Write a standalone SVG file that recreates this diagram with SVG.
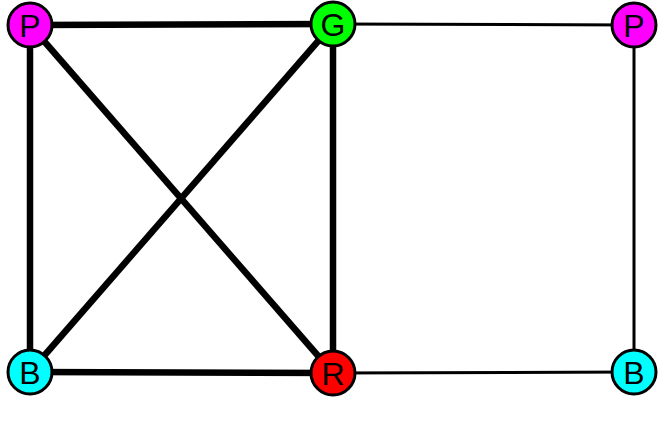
<svg xmlns="http://www.w3.org/2000/svg" width="665" height="440" viewBox="0 0 665 440">
<style>
.n{stroke:#000;stroke-width:3}
.t{font-family:"Liberation Sans",Arial,sans-serif;font-size:32px;text-anchor:middle;fill:#000}
.thick{stroke:#000;stroke-width:6.5;stroke-linecap:butt}
.thin{stroke:#000;stroke-width:3}
</style>
<rect width="665" height="440" fill="#fff"/>
<g id="edges">
<line class="thick" x1="30" y1="25" x2="333" y2="24"/>
<line class="thick" x1="30" y1="25" x2="30" y2="372"/>
<line class="thick" x1="30" y1="25" x2="333" y2="373"/>
<line class="thick" x1="333" y1="24" x2="30" y2="372"/>
<line class="thick" x1="333" y1="24" x2="333" y2="373"/>
<line class="thick" x1="30" y1="372" x2="333" y2="373"/>
<line class="thin" x1="333" y1="24" x2="634" y2="25"/>
<line class="thin" x1="634" y1="25" x2="634" y2="372"/>
<line class="thin" x1="333" y1="373" x2="634" y2="372"/>
</g>
<g id="n1"><circle class="n" cx="30" cy="25" r="22" fill="#ff00ff"/><text class="t" x="30" y="36.5">P</text></g>
<g id="n2"><circle class="n" cx="333" cy="24" r="22" fill="#00ff00"/><text class="t" x="333" y="35.5">G</text></g>
<g id="n3"><circle class="n" cx="634" cy="25" r="22" fill="#ff00ff"/><text class="t" x="634" y="36.5">P</text></g>
<g id="n4"><circle class="n" cx="30" cy="372" r="22" fill="#00ffff"/><text class="t" x="30" y="383.5">B</text></g>
<g id="n5"><circle class="n" cx="333" cy="373" r="22" fill="#ff0000"/><text class="t" x="333" y="384.5">R</text></g>
<g id="n6"><circle class="n" cx="634" cy="372" r="22" fill="#00ffff"/><text class="t" x="634" y="383.5">B</text></g>
</svg>
